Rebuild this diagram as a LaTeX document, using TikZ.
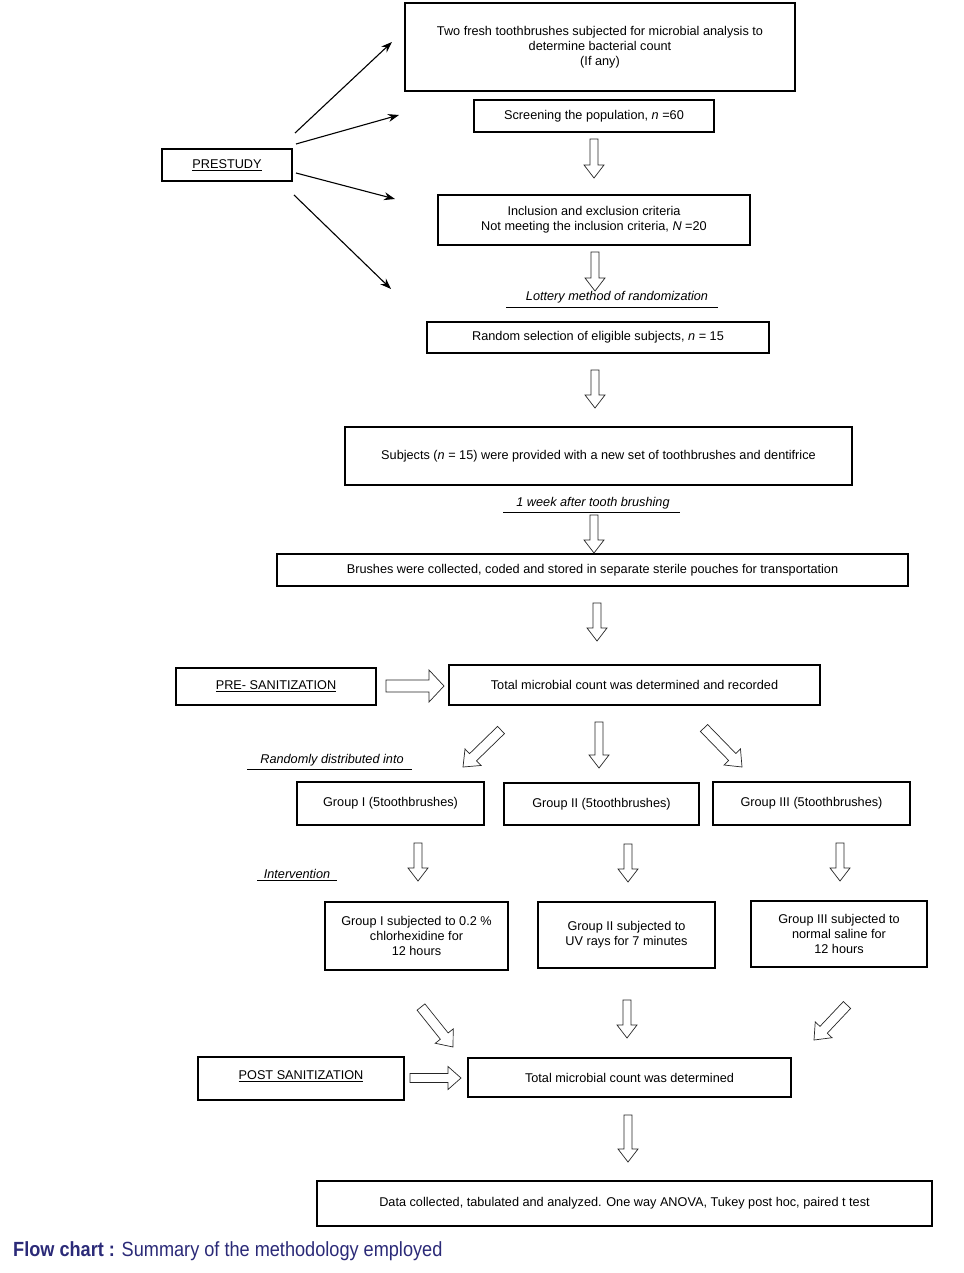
\documentclass[tikz,border=0pt]{standalone}
\usepackage{fontspec}
\setmainfont{Liberation Sans}
\newfontfamily\capfont[FakeStretch=0.885]{Liberation Sans}
\usetikzlibrary{calc,arrows.meta}
\definecolor{capblue}{HTML}{2B2A78}
\newcommand{\fs}{\fontsize{12.7}{15}\selectfont}
\tikzset{
  box/.style={draw, line width=1.3pt, align=center, font=\fs, inner sep=0pt},
  lbl/.style={font=\fs\itshape, inner sep=0pt},
  uline/.style={line width=1.2pt},
  thinarr/.style={line width=1.1pt, -{Stealth[length=11pt,width=8pt]}},
  blockarr/.style={draw=black!85, line width=0.7pt, fill=white, line join=miter}
}
% #1 name prefix, #2 tail, #3 tip, #4 shaft half width, #5 head half width, #6 head length
\newcommand{\barrow}[6]{%
  \coordinate (#1t) at #2;
  \coordinate (#1p) at #3;
  \coordinate (#1h) at ($(#1p)!#6!(#1t)$);
  \draw[blockarr] ($(#1t)!#4!90:(#1p)$) -- ($(#1h)!#4!90:(#1p)$) -- ($(#1h)!#5!90:(#1p)$)
     -- (#1p) -- ($(#1h)!#5!-90:(#1p)$) -- ($(#1h)!#4!-90:(#1p)$) -- ($(#1t)!#4!-90:(#1p)$) -- cycle;}
\newcommand{\varrow}[3]{\barrow{#1}{#2}{#3}{4pt}{10pt}{13pt}}
\newcommand{\darrow}[3]{\barrow{#1}{#2}{#3}{5pt}{11.5pt}{14pt}}
\begin{document}
\begin{tikzpicture}[x=1pt,y=-1pt]
\useasboundingbox (0,0) rectangle (963,1273);
\fill[white] (0,0) rectangle (963,1273);

% boxes
\node[box, minimum width=390pt, minimum height=88pt] (top) at (600,47)
  {Two fresh toothbrushes subjected for microbial analysis to\\determine bacterial count\\(If any)};
\node[box, minimum width=240pt, minimum height=32pt] (scr) at (594,116)
  {Screening the population, \textit{n} =60};
\node[box, minimum width=130pt, minimum height=32pt] (pre) at (227,165) {\underline{PRESTUDY}};
\node[box, minimum width=312pt, minimum height=50pt] (inc) at (594,220)
  {Inclusion and exclusion criteria\\Not meeting the inclusion criteria, \textit{N} =20};
\node[box, minimum width=342pt, minimum height=31pt] (rnd) at (598,337.5)
  {Random selection of eligible subjects, \textit{n} = 15};
\node[box, minimum width=507pt, minimum height=58pt] (sub) at (598.5,456)
  {Subjects (\textit{n} = 15) were provided with a new set of toothbrushes and dentifrice};
\node[box, minimum width=631pt, minimum height=32pt] (bru) at (592.5,570)
  {Brushes were collected, coded and stored in separate sterile pouches for transportation};
\node[box, minimum width=200pt, minimum height=37pt] (pres) at (276,686.5)
  {\raisebox{3.5pt}{\underline{PRE- SANITIZATION}}};
\node[box, minimum width=371pt, minimum height=40pt] (tmc) at (634.5,685)
  {Total microbial count was determined and recorded};
\node[box, minimum width=187pt, minimum height=43pt] (g1) at (390.5,803.5) {Group I (5toothbrushes)};
\node[box, minimum width=195pt, minimum height=42pt] (g2) at (601.5,804) {Group II (5toothbrushes)};
\node[box, minimum width=197pt, minimum height=43pt] (g3) at (811.5,803.5) {\raisebox{2pt}{Group III (5toothbrushes)}};
\node[box, minimum width=183pt, minimum height=68pt] (s1) at (416.5,936)
  {Group I subjected to 0.2 \%\\chlorhexidine for\\12 hours};
\node[box, minimum width=177pt, minimum height=66pt] (s2) at (626.5,935)
  {Group II subjected to\\UV rays for 7 minutes};
\node[box, minimum width=176pt, minimum height=66pt] (s3) at (839,934)
  {Group III subjected to\\normal saline for\\12 hours};
\node[box, minimum width=206pt, minimum height=43pt] (post) at (301,1078.5)
  {\raisebox{7pt}{\underline{POST SANITIZATION}}};
\node[box, minimum width=323pt, minimum height=39pt] (tmd) at (629.5,1077.5)
  {Total microbial count was determined};
\node[box, minimum width=615pt, minimum height=45pt] (data) at (624.5,1203.5)
  {Data collected, tabulated and analyzed. One way ANOVA, Tukey post hoc, paired t test};

% italic labels with rules
\node[lbl] (lot) at (617,297) {Lottery method of randomization};
\draw[uline] (lot.south) ++(-111pt,-4pt) coordinate (lotl) -- ++(212pt,0pt) coordinate (lotr);
\node[lbl] (wk) at (593,503) {1 week after tooth brushing};
\draw[uline] (wk.south) ++(-90pt,-3pt) coordinate (wkl) -- ++(177pt,0pt) coordinate (wkr);
\node[lbl] (rdi) at (332,760) {Randomly distributed into};
\draw[uline] (rdi.south) ++(-85pt,-3pt) coordinate (rdil) -- ++(165pt,0pt) coordinate (rdir);
\node[lbl] (intv) at (297,874) {Intervention};
\draw[uline] (intv.south) ++(-40pt,-2pt) coordinate (intl) -- ++(80pt,0pt) coordinate (intr);

% thin arrows from PRESTUDY
\coordinate (p1s) at (295,133); \coordinate (p1e) at (392,42);
\coordinate (p2s) at (296,144); \coordinate (p2e) at (399,115);
\coordinate (p3s) at (296,173); \coordinate (p3e) at (395,199);
\coordinate (p4s) at (294,195); \coordinate (p4e) at (391,289);
\draw[thinarr] (p1s) -- (p1e);
\draw[thinarr] (p2s) -- (p2e);
\draw[thinarr] (p3s) -- (p3e);
\draw[thinarr] (p4s) -- (p4e);

% block arrows
\varrow{a1}{(594,139)}{(594,178)}
\varrow{a2}{(595,252)}{(595,291)}
\varrow{a3}{(595,370)}{(595,408)}
\varrow{a4}{(594,515)}{(594,553)}
\varrow{a5}{(597,603)}{(597,641)}
\barrow{h1}{(386,686)}{(444,686)}{6pt}{16pt}{15pt}
\darrow{d1}{(501,730)}{(463,767)}
\varrow{d2}{(599,722)}{(599,768)}
\darrow{d3}{(704,728)}{(742,767)}
\varrow{v1}{(418,843)}{(418,881)}
\varrow{v2}{(628,844)}{(628,882)}
\varrow{v3}{(840,843)}{(840,881)}
\darrow{e1}{(421,1007)}{(453,1047)}
\varrow{e2}{(627,1000)}{(627,1038)}
\darrow{e3}{(847,1005)}{(814,1040)}
\barrow{h2}{(410,1078)}{(461,1078)}{4.5pt}{11.5pt}{13pt}
\varrow{a6}{(628,1115)}{(628,1162)}

% caption
\node[anchor=west, inner sep=0pt, text=capblue, font=\capfont\fontsize{20.5}{24}\selectfont] (cap) at (13,1251)
  {\textbf{Flow chart :} Summary of the methodology employed};
\end{tikzpicture}
\end{document}
